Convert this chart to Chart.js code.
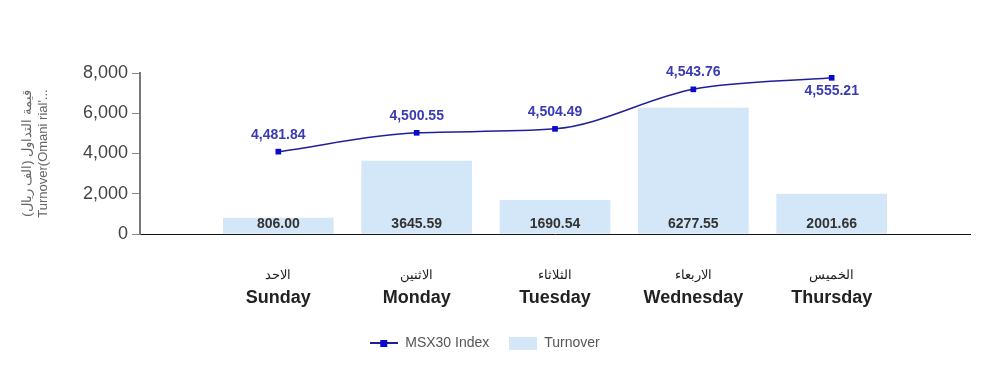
<!DOCTYPE html>
<html>
<head>
<meta charset="utf-8">
<script src="https://cdn.jsdelivr.net/npm/chart.js@4.4.0/dist/chart.umd.min.js"></script>
<style>
  html, body { margin: 0; padding: 0; background: #fff; }
  #wrap { width: 1000px; height: 386px; position: relative; }
</style>
</head>
<body>
<div id="wrap"><canvas id="combo"></canvas></div>
<script>
const daysEn = ['Sunday', 'Monday', 'Tuesday', 'Wednesday', 'Thursday'];
const daysAr = ['الاحد', 'الاثنين', 'الثلاثاء', 'الاربعاء', 'الخميس'];
const turnover = [806.00, 3645.59, 1690.54, 6277.55, 2001.66];
const msx30 = [4481.84, 4500.55, 4504.49, 4543.76, 4555.21];
const yTicks = [0, 2000, 4000, 6000, 8000];

// empty slot on each side of the week
const labels = [''].concat(daysEn, ['']);
const pad = arr => [null].concat(arr, [null]);

const FONT = "'Liberation Sans', Arial, sans-serif";

function lineIcon() {
  const c = document.createElement('canvas');
  c.width = 28; c.height = 10;
  const g = c.getContext('2d');
  g.strokeStyle = '#1f1f99'; g.lineWidth = 2;
  g.beginPath(); g.moveTo(0, 5); g.lineTo(28, 5); g.stroke();
  g.fillStyle = '#0a0acc';
  g.fillRect(10, 2, 7, 7);
  return c;
}
function boxIcon() {
  const c = document.createElement('canvas');
  c.width = 28; c.height = 13;
  const g = c.getContext('2d');
  g.fillStyle = '#d3e7f8';
  g.fillRect(0, 0, 28, 13);
  return c;
}
const icons = [lineIcon(), boxIcon()];

const labelsPlugin = {
  id: 'valueLabels',
  afterDatasetsDraw(chart) {
    const ctx = chart.ctx;
    ctx.save();
    ctx.textAlign = 'center';
    ctx.textBaseline = 'middle';
    // bar values
    const bars = chart.getDatasetMeta(1).data;
    ctx.font = 'bold 14px ' + FONT;
    ctx.fillStyle = '#333';
    bars.forEach((el, i) => {
      const v = chart.data.datasets[1].data[i];
      if (v == null) return;
      ctx.fillText(v.toFixed(2), el.x, el.base - 9);
    });
    // index values
    const pts = chart.getDatasetMeta(0).data;
    ctx.font = 'bold 14px ' + FONT;
    ctx.fillStyle = '#3a3ab4';
    pts.forEach((el, i) => {
      const v = chart.data.datasets[0].data[i];
      if (v == null) return;
      const txt = v.toLocaleString('en-US', { minimumFractionDigits: 2, maximumFractionDigits: 2 });
      const dy = i === pts.length - 2 ? 13 : -17;
      ctx.fillText(txt, el.x, el.y + dy);
    });
    // day names under the axis
    const x = chart.scales.x;
    labels.forEach((lab, i) => {
      if (!lab) return;
      const px = x.getPixelForValue(i);
      ctx.fillStyle = '#222';
      ctx.font = '13px ' + FONT;
      ctx.fillText(daysAr[i - 1], px, 275);
      ctx.font = 'bold 18px ' + FONT;
      ctx.fillText(lab, px, 298);
    });
    ctx.restore();
  }
};

const ctx = document.getElementById('combo').getContext('2d');
const chart = new Chart(ctx, {
  data: {
    labels: labels,
    datasets: [{
      type: 'line',
      label: 'MSX30 Index',
      data: pad(msx30),
      yAxisID: 'y1',
      borderColor: '#1f1f99',
      borderWidth: 1.5,
      backgroundColor: '#0a0acc',
      pointStyle: 'rect',
      pointRadius: 4,
      pointBorderWidth: 0,
      cubicInterpolationMode: 'monotone',
      spanGaps: false,
      order: 0
    }, {
      type: 'bar',
      label: 'Turnover',
      data: pad(turnover),
      yAxisID: 'y',
      backgroundColor: '#d3e7f8',
      barPercentage: 0.8,
      categoryPercentage: 1,
      order: 1
    }]
  },
  options: {
    responsive: true,
    maintainAspectRatio: false,
    animation: false,
    layout: { padding: { top: 73, right: 30, left: 0, bottom: 26 } },
    scales: {
      x: {
        type: 'category',
        offset: false,
        grid: { display: false },
        border: { display: true, color: '#111', width: 1 },
        ticks: { display: false },
        afterFit(s) { s.height = 82; }
      },
      y: {
        min: 0,
        max: 8000,
        afterBuildTicks(s) { s.ticks = yTicks.map(v => ({ value: v })); },
        grid: { drawOnChartArea: false, drawTicks: true, tickLength: 8, color: '#888' },
        border: { display: true, color: '#777', width: 2 },
        ticks: {
          color: '#444',
          font: { family: FONT, size: 18 },
          padding: 4,
          callback: v => v.toLocaleString('en-US')
        },
        title: {
          display: true,
          text: ['قيمة التداول (الف ريال)', "Turnover(Omani rial'..."],
          color: '#666',
          font: { family: FONT, size: 13 },
          padding: { top: 20, bottom: 4 }
        },
        afterFit(s) { s.width = 140; }
      },
      y1: {
        display: false,
        min: 4400,
        max: 4560
      }
    },
    plugins: {
      legend: {
        position: 'bottom',
        labels: {
          color: '#555',
          font: { family: FONT, size: 14 },
          usePointStyle: true,
          pointStyleWidth: 28,
          boxHeight: 13,
          padding: 20,
          generateLabels(c) {
            const items = Chart.defaults.plugins.legend.labels.generateLabels(c);
            items.forEach((it, i) => { it.pointStyle = icons[i]; });
            return items;
          }
        }
      },
      tooltip: { enabled: false }
    }
  },
  plugins: [labelsPlugin]
});
</script>
</body>
</html>
